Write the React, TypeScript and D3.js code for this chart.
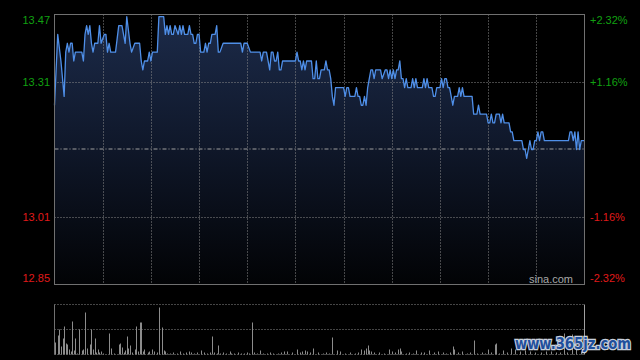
import React from "react";
import * as d3 from "d3";

// ---- data ----
const minutes = [0,2,4,6,7,8,9,10,11,12,13,17,18,19,20,21,22,23,24,25,27,28,29,31,32,33,34,35,38,40,42,44,45,47,48,50,53,54,55,56,58,59,60,61,64,65,68,69,70,71,72,73,74,75,77,78,79,80,81,83,84,85,86,87,88,89,90,91,93,94,95,96,97,98,100,101,102,103,105,116,117,118,120,122,128,129,130,132,134,135,136,137,138,139,140,141,142,150,151,152,153,154,155,156,157,160,161,162,163,164,165,166,168,169,170,171,172,173,174,175,180,181,182,183,184,187,188,189,190,191,192,193,194,195,196,197,198,199,200,203,204,206,207,208,209,210,211,212,213,214,215,216,217,218,219,220,222,223,224,225,226,229,230,231,232,233,235,236,237,238,240,241,242,243,244,245,246,248,249,251,252,253,254,255,260,261,263,264,265,269,270,271,272,273,274,275,277,278,279,280,283,284,285,286,291,292,293,294,295,296,297,298,299,300,301,302,303,304,305,320,321,322,323,324,325,326,327,328,330];
const prices = [13.26,13.42,13.36,13.28,13.38,13.40,13.38,13.40,13.40,13.36,13.38,13.38,13.36,13.42,13.44,13.42,13.44,13.40,13.38,13.40,13.40,13.44,13.40,13.42,13.42,13.38,13.40,13.38,13.38,13.44,13.44,13.40,13.46,13.40,13.38,13.40,13.40,13.36,13.34,13.36,13.36,13.38,13.36,13.38,13.38,13.46,13.46,13.42,13.44,13.42,13.44,13.42,13.42,13.44,13.42,13.44,13.42,13.44,13.42,13.42,13.44,13.42,13.42,13.40,13.40,13.42,13.42,13.38,13.38,13.40,13.38,13.40,13.40,13.42,13.42,13.44,13.38,13.38,13.40,13.40,13.38,13.40,13.40,13.38,13.38,13.36,13.38,13.38,13.34,13.38,13.38,13.36,13.36,13.38,13.34,13.34,13.36,13.36,13.38,13.36,13.36,13.34,13.36,13.34,13.36,13.36,13.32,13.32,13.36,13.32,13.32,13.34,13.34,13.36,13.34,13.34,13.32,13.28,13.26,13.30,13.30,13.28,13.30,13.30,13.28,13.28,13.30,13.28,13.28,13.26,13.26,13.28,13.26,13.30,13.32,13.34,13.34,13.32,13.34,13.34,13.32,13.34,13.34,13.32,13.34,13.32,13.34,13.32,13.34,13.34,13.36,13.32,13.32,13.30,13.32,13.30,13.30,13.32,13.30,13.32,13.30,13.30,13.32,13.30,13.32,13.30,13.30,13.28,13.28,13.30,13.30,13.32,13.30,13.32,13.32,13.30,13.30,13.26,13.28,13.28,13.30,13.28,13.30,13.28,13.28,13.24,13.24,13.26,13.24,13.24,13.22,13.22,13.24,13.22,13.22,13.24,13.24,13.22,13.24,13.22,13.22,13.20,13.20,13.18,13.18,13.16,13.16,13.14,13.16,13.18,13.16,13.16,13.18,13.18,13.20,13.18,13.20,13.20,13.18,13.18,13.20,13.20,13.18,13.20,13.16,13.20,13.16,13.18,13.18];

const volMinutes = [0,2,3,4,5,6,7,8,9,10,11,12,13,14,15,17,18,19,20,22,23,24,25,26,27,28,29,30,34,35,37,40,41,42,43,44,45,46,47,48,50,51,52,53,54,55,56,58,59,61,62,64,65,67,68,69,70,72,74,76,78,80,82,84,85,87,89,91,93,95,97,98,99,101,102,103,105,107,109,110,112,114,116,118,120,121,123,124,126,128,130,132,134,136,139,141,143,145,148,151,153,154,156,157,159,161,164,167,169,171,173,176,178,181,184,187,189,191,193,194,195,196,197,199,202,205,208,210,212,214,215,216,219,221,223,225,228,230,233,236,239,242,244,246,248,249,251,254,257,259,261,263,266,268,270,272,274,275,277,279,282,284,287,290,293,296,299,303,306,309,312,315,317,319,322,325,328];
const volumes = [12,19,25,8,16,28,11,10,5,3,33,4,16,1,25,4,5,42,6,10,25,5,16,2,5,2,3,1,21,6,1,10,11,7,2,4,18,6,9,2,5,28,3,32,32,3,5,2,3,5,3,2,47,27,4,3,1,1,2,1,3,1,2,3,2,1,2,4,2,1,2,18,2,1,9,1,2,1,3,1,1,2,1,1,2,1,32,2,1,4,1,1,2,1,1,2,3,3,2,5,2,3,4,3,2,6,2,1,2,1,17,4,3,1,2,1,2,5,4,6,9,4,3,2,2,1,5,3,2,5,6,3,1,2,1,4,2,2,4,2,3,2,1,2,8,5,2,3,1,2,14,1,2,1,5,2,10,11,1,4,2,6,5,3,4,3,2,2,3,3,2,2,21,2,20,5,3];

const prevClose = 13.16;
const priceDomain = [12.855, 13.465];
const priceLabels = ["12.85", "13.01", "", "13.31", "13.47"];
const pctLabels = ["-2.32%", "-1.16%", "", "+1.16%", "+2.32%"];
const totalMinutes = 330;
const gridMinutes = [30, 60, 90, 120, 150, 180, 210, 240, 270, 300];
const volMax = 50;

export default function App() {
  const L = 54.5, R = 584.5, T = 14.5, B = 284.5;
  const VT = 304.5, VB = 354.5;
  const x = d3.scaleLinear().domain([0, totalMinutes]).range([L, R]);
  const y = d3.scaleLinear().domain(priceDomain).range([B, T]);
  const yv = d3.scaleLinear().domain([0, volMax]).range([VB, VT]);
  const pts = minutes.map((m, i) => [m, prices[i]] as [number, number]);
  const line = d3.line<[number, number]>().x(d => x(d[0])).y(d => y(d[1]));
  const area = d3.area<[number, number]>().x(d => x(d[0])).y0(B).y1(d => y(d[1]));
  const levels = d3.range(5).map(i => priceDomain[0] + (i * (priceDomain[1] - priceDomain[0])) / 4);
  const font = "Arial, 'Liberation Sans', sans-serif";
  const px = (v: number) => Math.round(v) + 0.5;

  return (
    <svg width={640} height={360} style={{ position: "fixed", left: 0, top: 0, background: "#000" }}>
      <defs>
        <linearGradient id="fillg" gradientUnits="userSpaceOnUse" x1="0" y1={T} x2="0" y2={B}>
          <stop offset="0" stopColor="#1c2b4a" />
          <stop offset="0.5" stopColor="#0f1729" />
          <stop offset="1" stopColor="#020305" />
        </linearGradient>
      </defs>
      <rect x={0} y={0} width={640} height={360} fill="#000" />
      <path d={area(pts) || ""} fill="url(#fillg)" />
      {gridMinutes.map(m => (
        <line key={"v" + m} x1={px(x(m))} x2={px(x(m))} y1={T} y2={B} stroke="#8a8a8a" strokeWidth={1} strokeDasharray="1,2" />
      ))}
      {levels.map((v, i) =>
        i === 0 || i === 4 ? null : i === 2 ? (
          <line key={"h" + i} x1={L} x2={R} y1={y(prevClose) - 0.5} y2={y(prevClose) - 0.5} stroke="#a0a0a0" strokeWidth={1} strokeDasharray="4,2,1,2" />
        ) : (
          <line key={"h" + i} x1={L} x2={R} y1={px(y(v))} y2={px(y(v))} stroke="#8a8a8a" strokeWidth={1} strokeDasharray="1,2" />
        )
      )}
      <path d={line(pts) || ""} fill="none" stroke="#4f8fe8" strokeWidth={1.3} strokeLinejoin="round" />
      <rect x={L} y={T} width={R - L} height={B - T} fill="none" stroke="#707070" strokeWidth={1} />
      {levels.map((v, i) => {
        if (!priceLabels[i]) return null;
        const off = i === 4 ? 6 : i === 0 ? -6 : 0;
        const col = v > prevClose ? "#11a011" : "#e01a1a";
        return (
          <g key={"lab" + i}>
            <text x={50} y={y(v) + off} dy="0.35em" textAnchor="end" fill={col} fontSize={11} fontFamily={font}>{priceLabels[i]}</text>
            <text x={590} y={y(v) + off} dy="0.35em" textAnchor="start" fill={col} fontSize={11} fontFamily={font}>{pctLabels[i]}</text>
          </g>
        );
      })}
      <text x={573} y={279} dy="0.35em" textAnchor="end" fill="#a8a8a8" fontSize={11} fontFamily={font}>sina.com</text>

      {/* volume panel */}
      <line x1={L} x2={R} y1={VT} y2={VT} stroke="#8a8a8a" strokeDasharray="1,2" />
      <line x1={L} x2={R} y1={(VT + VB) / 2} y2={(VT + VB) / 2} stroke="#8a8a8a" strokeDasharray="1,2" />
      <line x1={L} x2={R} y1={VB} y2={VB} stroke="#8a8a8a" strokeDasharray="1,2" />
      {volMinutes.map((m, i) => (
        <line key={"vb" + i} x1={px(x(m))} x2={px(x(m))} y1={VB} y2={yv(volumes[i])} stroke="#8c8c8c" strokeWidth={1} />
      ))}
      <line x1={L} x2={L} y1={VT} y2={VB} stroke="#707070" />
      <line x1={R} x2={R} y1={VT} y2={VB} stroke="#a0a0a0" />

      <text x={515} y={349} textLength={116} lengthAdjust="spacingAndGlyphs" fill="#1f4f9c" stroke="#c8d0dc" strokeWidth={2.5} paintOrder="stroke" fontSize={15} fontWeight="bold" fontFamily="'DejaVu Sans', sans-serif">www.365jz.com</text>
    </svg>
  );
}
